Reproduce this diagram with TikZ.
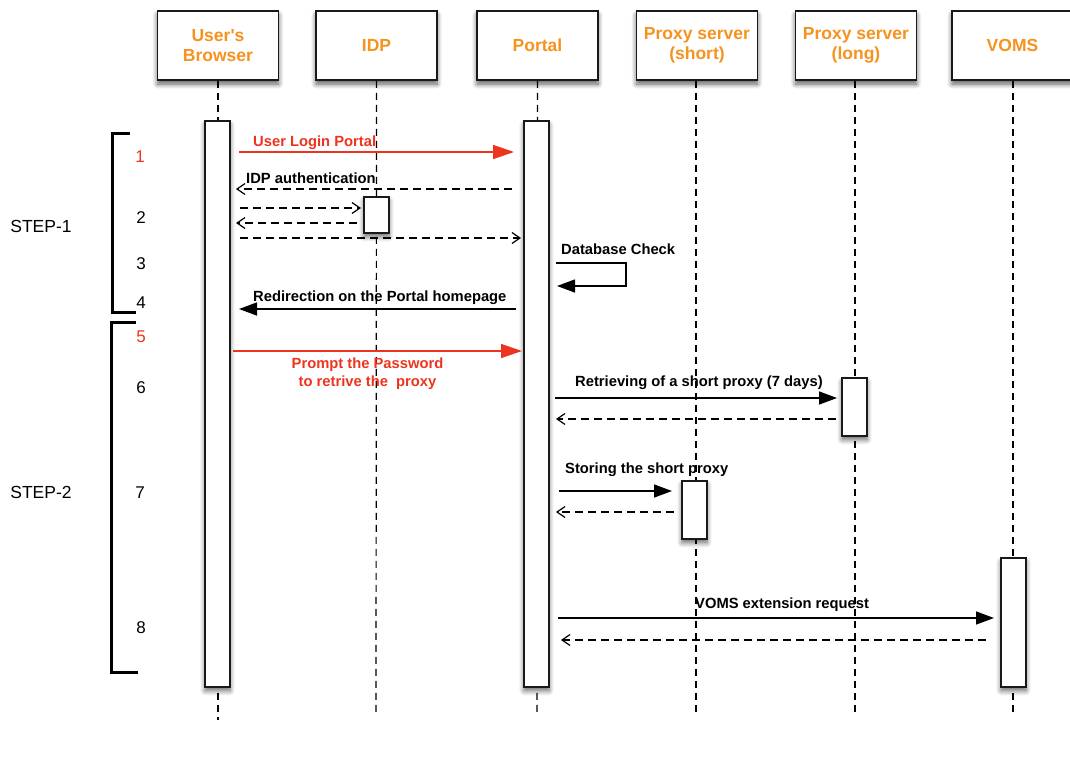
\documentclass[tikz,border=0pt]{standalone}
\usepackage{fontspec}
\setmainfont{Liberation Sans}
% same family without the TeX quote mapping, so that ' stays straight
\newfontfamily\plainsans{Liberation Sans}
\usetikzlibrary{arrows.meta,shadows,shadows.blur}
\definecolor{hdr}{RGB}{246,146,30}
\definecolor{msgred}{RGB}{238,52,30}

\begin{document}
\begin{tikzpicture}[x=1pt,y=-1pt,
  header/.style={draw=black!90, line width=1.7pt, fill=white,
    minimum width=121pt, minimum height=69pt, inner sep=0pt, align=center,
    font=\plainsans\fontsize{17.5}{20.5}\selectfont\bfseries, text=hdr,
    blur shadow={shadow xshift=0pt, shadow yshift=-4pt, shadow blur steps=8, shadow blur radius=5pt, shadow opacity=65}},
  actbar/.style={draw=black!90, line width=1.5pt, fill=white,
    minimum width=25pt, inner sep=0pt, anchor=north,
    blur shadow={shadow xshift=0pt, shadow yshift=-4pt, shadow blur steps=8, shadow blur radius=5pt, shadow opacity=60}},
  lifeline/.style={line width=1.2pt, dash pattern=on 7pt off 5pt},
  msglabel/.style={font=\fontsize{14.75}{17.5}\selectfont\bfseries, inner sep=0pt},
  redlabel/.style={msglabel, text=msgred},
  callmsg/.style={line width=1.4pt, -{Triangle[length=18pt,width=13pt]}},
  redmsg/.style={line width=1.4pt, draw=msgred, -{Triangle[length=21pt,width=14pt]}, color=msgred},
  replymsg/.style={line width=1.2pt, dash pattern=on 8pt off 5pt, -{Straight Barb[length=8pt,width=11pt]}},
  stepnum/.style={font=\fontsize{17}{20}\selectfont, inner sep=0pt},
  steptext/.style={font=\fontsize{17.5}{20}\selectfont, inner sep=0pt},
  bracket/.style={line width=3pt}
]
\useasboundingbox (0,0) rectangle (1070,768);
\clip (0,0) rectangle (1070,768);

% participants
\node[header] (browser) at (218,45.5) {User's\\Browser};
\node[header] (idp)     at (376.5,45.5) {IDP};
\node[header] (portal)  at (537.5,45.5) {Portal};
\node[header] (pshort)  at (697,45.5) {Proxy server\\(short)};
\node[header] (plong)   at (856,45.5) {Proxy server\\(long)};
\node[header] (voms)    at (1012.5,45.5) {VOMS};

% lifeline ends
\coordinate (browserEnd) at (218,720);
\coordinate (idpEnd)     at (376,715);
\coordinate (portalEnd)  at (537,715);
\coordinate (pshortEnd)  at (696,715);
\coordinate (plongEnd)   at (855,715);
\coordinate (vomsEnd)    at (1013,715);

\draw[lifeline] (browser.south) -- (browserEnd);
\draw[lifeline] (idp.south) -- (idpEnd);
\draw[lifeline] (portal.south) -- (portalEnd);
\draw[lifeline] (pshort.south -| pshortEnd) -- (pshortEnd);
\draw[lifeline] (plong.south -| plongEnd) -- (plongEnd);
\draw[lifeline] (voms.south -| vomsEnd) -- (vomsEnd);

% activation bars
\node[actbar, minimum height=566pt] (browserbar) at (217.5,120) {};
\node[actbar, minimum height=566pt] (portalbar)  at (536.5,120) {};
\node[actbar, minimum height=36pt]  (idpbar)     at (376.5,196) {};
\node[actbar, minimum height=58pt]  (plongbar)   at (854.5,377) {};
\node[actbar, minimum height=58pt]  (pshortbar)  at (694.5,480) {};
\node[actbar, minimum height=129pt] (vomsbar)    at (1013.5,557) {};

% message end points
\coordinate (m1a) at (239,152);   \coordinate (m1b) at (514,152);
\coordinate (m2a) at (512,189);   \coordinate (m2b) at (236,189);
\coordinate (m3a) at (240,208);   \coordinate (m3b) at (361,208);
\coordinate (m4a) at (357,223);   \coordinate (m4b) at (236,223);
\coordinate (m5a) at (240,238);   \coordinate (m5b) at (521,238);
\coordinate (dbA) at (556,263);   \coordinate (dbB) at (626,263);
\coordinate (dbC) at (626,286);   \coordinate (dbD) at (557,286);
\coordinate (m7a) at (516,309);   \coordinate (m7b) at (239,309);
\coordinate (m8a) at (233,351);   \coordinate (m8b) at (522,351);
\coordinate (m9a) at (555,398);   \coordinate (m9b) at (837,398);
\coordinate (r9a) at (836,419);   \coordinate (r9b) at (556,419);
\coordinate (m10a) at (559,491);  \coordinate (m10b) at (672,491);
\coordinate (r10a) at (674,512);  \coordinate (r10b) at (556,512);
\coordinate (m11a) at (558,618);  \coordinate (m11b) at (994,618);
\coordinate (r11a) at (986,640);  \coordinate (r11b) at (561,640);

% messages
\draw[redmsg] (m1a) -- (m1b);
\node[redlabel, anchor=base west] (l1) at (253,146.5) {User Login Portal};

\draw[replymsg] (m2a) -- (m2b);
\node[msglabel, anchor=base west] (l2) at (246,183.5) {IDP authentication};
\draw[replymsg] (m3a) -- (m3b);
\draw[replymsg] (m4a) -- (m4b);
\draw[replymsg] (m5a) -- (m5b);

\draw[callmsg] (dbA) -- (dbB) -- (dbC) -- (dbD);
\node[msglabel, anchor=base west] (l3) at (561,254) {Database Check};

\draw[callmsg] (m7a) -- (m7b);
\node[msglabel, anchor=base west] (l4) at (253,301.5) {Redirection on the Portal homepage};

\draw[redmsg] (m8a) -- (m8b);
\node[redlabel, anchor=north, align=center] (l5) at (367.5,358) {Prompt the Password\\to retrive the\ \ proxy};

\draw[callmsg] (m9a) -- (m9b);
\node[msglabel, anchor=base west] (l6) at (575,386.5) {Retrieving of a short proxy (7 days)};
\draw[replymsg] (r9a) -- (r9b);

\draw[callmsg] (m10a) -- (m10b);
\node[msglabel, anchor=base west] (l7) at (565,473) {Storing the short proxy};
\draw[replymsg] (r10a) -- (r10b);

\draw[callmsg] (m11a) -- (m11b);
\node[msglabel, anchor=base west] (l8) at (695,608.5) {VOMS extension request};
\draw[replymsg] (r11a) -- (r11b);

% step brackets
\draw[bracket] (130,133) -- (112,133) -- (112,312) -- (136,312);
\draw[bracket] (136,322) -- (111,322) -- (111,672) -- (138,672);

\node[steptext] (s1) at (41,226) {STEP-1};
\node[steptext] (s2) at (41,492) {STEP-2};

% step numbers
\node[stepnum, text=msgred] (n1) at (140,157) {1};
\node[stepnum] (n2) at (141,218) {2};
\node[stepnum] (n3) at (141,264) {3};
\node[stepnum] (n4) at (141,303) {4};
\node[stepnum, text=msgred] (n5) at (141,337) {5};
\node[stepnum] (n6) at (141,388) {6};
\node[stepnum] (n7) at (140,493) {7};
\node[stepnum] (n8) at (141,628) {8};
\end{tikzpicture}
\end{document}
